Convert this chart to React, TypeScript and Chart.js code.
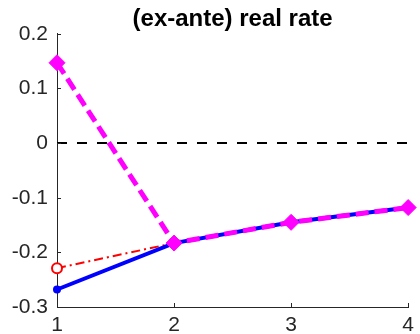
import React, { useEffect, useRef } from "react";
import { Chart, registerables } from "chart.js";

Chart.register(...registerables);

const xValues = [1, 2, 3, 4];
const blueSeries = [-0.268, -0.183, -0.145, -0.118];
const redSeries = [-0.229, -0.183, -0.145, -0.118];
const magentaSeries = [0.147, -0.183, -0.145, -0.118];
const zeroLine = [0, 0, 0, 0];
const yTicks = [-0.3, -0.2, -0.1, 0, 0.1, 0.2];
const xTicks = [1, 2, 3, 4];
const titleText = "(ex-ante) real rate";

const AXIS_COLOR = "#262626";
const FONT = "Liberation Sans, Arial, sans-serif";

const inwardTicks = {
  id: "inwardTicks",
  afterDraw(chart: any) {
    const { ctx, chartArea, scales } = chart;
    ctx.save();
    ctx.strokeStyle = AXIS_COLOR;
    ctx.lineWidth = 1;
    ctx.beginPath();
    for (const v of yTicks) {
      const y = Math.round(scales.y.getPixelForValue(v)) + 0.5;
      ctx.moveTo(chartArea.left, y);
      ctx.lineTo(chartArea.left + 4, y);
    }
    for (const v of xTicks) {
      const x = Math.round(scales.x.getPixelForValue(v)) + 0.5;
      ctx.moveTo(x, chartArea.bottom);
      ctx.lineTo(x, chartArea.bottom - 4);
    }
    ctx.stroke();
    ctx.restore();
  },
};

function toPts(vals: number[]) {
  return vals.map((v, i) => ({ x: xValues[i], y: v }));
}

export default function App() {
  const ref = useRef<HTMLCanvasElement | null>(null);
  useEffect(() => {
    if (!ref.current) return;
    const chart = new Chart(ref.current, {
      type: "line",
      data: {
        datasets: [
          {
            order: 3,
            data: toPts(zeroLine),
            borderColor: "#000000",
            borderWidth: 2,
            borderDash: [10, 10],
            pointRadius: 0,
            clip: false as any,
          },
          {
            order: 2,
            data: toPts(redSeries),
            borderColor: "#ff0000",
            borderWidth: 2,
            borderDash: [9, 4, 2, 4],
            pointRadius: [5, 0, 0, 0],
            pointBorderWidth: 2,
            pointBorderColor: "#ff0000",
            pointBackgroundColor: "#ffffff",
            clip: false as any,
          },
          {
            order: 1,
            data: toPts(blueSeries),
            borderColor: "#0000ff",
            backgroundColor: "#0000ff",
            borderWidth: 4,
            pointRadius: 4,
            pointBackgroundColor: "#0000ff",
            pointBorderColor: "#0000ff",
            pointBorderWidth: 0,
            clip: false as any,
          },
          {
            order: 0,
            data: toPts(magentaSeries),
            borderColor: "#ff00ff",
            borderWidth: 5,
            borderDash: [13, 6],
            pointStyle: "rectRot",
            pointRadius: 8,
            pointBackgroundColor: "#ff00ff",
            pointBorderColor: "#ff00ff",
            pointBorderWidth: 1,
            clip: false as any,
          },
        ],
      },
      options: {
        animation: false,
        responsive: true,
        maintainAspectRatio: false,
        layout: { padding: { left: 0, right: 7, top: 0, bottom: 0 } },
        plugins: {
          legend: { display: false },
          tooltip: { enabled: false },
          title: {
            display: true,
            text: titleText,
            fullSize: false,
            color: "#000000",
            font: { family: FONT, size: 24, weight: "bold" },
            padding: { top: 5, bottom: 0 },
          },
        },
        scales: {
          x: {
            type: "linear",
            min: 1,
            max: 4,
            afterBuildTicks(scale: any) {
              scale.ticks = xTicks.map((v) => ({ value: v }));
            },
            afterFit(scale: any) {
              scale.height = 27;
            },
            grid: { display: false, drawTicks: false },
            border: { display: true, color: AXIS_COLOR, width: 1 },
            ticks: {
              color: AXIS_COLOR,
              font: { family: FONT, size: 21 },
              padding: 6,
              maxRotation: 0,
              callback: (v: any) => String(v),
            },
          },
          y: {
            type: "linear",
            min: -0.3,
            max: 0.2,
            afterBuildTicks(scale: any) {
              scale.ticks = yTicks.map((v) => ({ value: v }));
            },
            afterFit(scale: any) {
              scale.width = 57;
            },
            grid: { display: false, drawTicks: false },
            border: { display: true, color: AXIS_COLOR, width: 1 },
            ticks: {
              color: AXIS_COLOR,
              font: { family: FONT, size: 21 },
              padding: 9,
              callback: (v: any) => {
                const n = Math.round(Number(v) * 10) / 10;
                return n === 0 ? "0" : n.toFixed(1);
              },
            },
          },
        },
      },
      plugins: [inwardTicks],
    });
    return () => chart.destroy();
  }, []);
  return (
    <div style={{ position: "absolute", left: 0, top: 0, width: 420, height: 334, background: "#ffffff" }}>
      <canvas ref={ref} />
    </div>
  );
}
